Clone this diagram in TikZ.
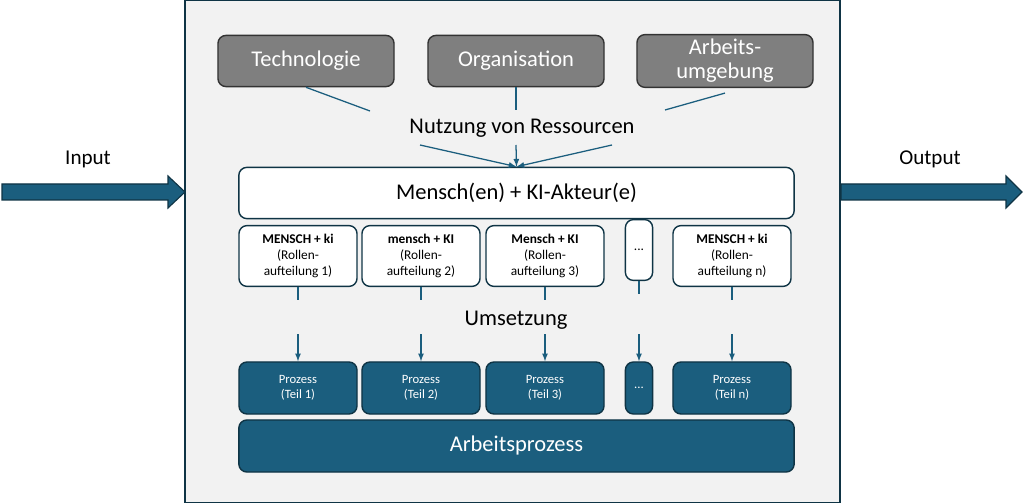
\documentclass[tikz,border=0pt]{standalone}
\usepackage{fontspec}
\setmainfont{Carlito}
\usetikzlibrary{positioning,calc}
\definecolor{teal}{HTML}{1B5E7E}
\definecolor{dteal}{HTML}{0F3445}
\definecolor{boxgray}{HTML}{7F7F7F}
\definecolor{bggray}{HTML}{F2F2F2}
\tikzset{
  res/.style={draw=black!80, fill=boxgray, rounded corners=2mm, line width=1pt,
    text=white, font=\fontsize{16}{17}\selectfont, minimum width=4.4cm,
    minimum height=1.28cm, align=center},
  role/.style={draw=dteal, fill=white, rounded corners=2mm, line width=1pt,
    font=\fontsize{9.5}{11.5}\selectfont, minimum width=2.95cm,
    minimum height=1.52cm, align=center},
  proc/.style={draw=dteal, fill=teal, rounded corners=2mm, line width=1pt,
    text=white, font=\fontsize{9}{11}\selectfont, minimum width=2.95cm,
    minimum height=1.3cm, align=center},
  lbl/.style={font=\fontsize{16}{18}\selectfont},
  link/.style={draw=teal, line width=0.9pt},
  arr/.style={link, -latex},
}
\begin{document}
\begin{tikzpicture}[x=0.025cm, y=-0.025cm]
\useasboundingbox (0,0) rectangle (1024,503);
\draw[fill=bggray, draw=dteal, line width=1pt] (185,0) rectangle (840,503);
% Ressourcen
\node[res] (tech) at (306,61) {Technologie};
\node[res] (org) at (516,61) {Organisation};
\node[res] (umg) at (725,61) {Arbeits-\\umgebung};
\node[lbl] (nutz) at (522,128) {Nutzung von Ressourcen};
\node[draw=dteal, fill=white, rounded corners=2mm, line width=1pt, lbl,
  minimum width=13.88cm, minimum height=1.28cm] (akt) at (516.5,193) {Mensch(en) + KI-Akteur(e)};
\path[link] (tech.south) -- (370,111);
\path[link] (org.south) -- (516,110);
\path[link] ($(umg.south)+(0,5)$) -- (665,110);
\coordinate (n1) at (420,145);
\coordinate (n2) at (516,145);
\coordinate (n3) at (612,145);
\foreach \n in {n1,n2,n3} \path[arr] (\n) -- (akt.north);
% Rollen
\node[role] (r1) at (298,256) {\textbf{MENSCH + ki}\\(Rollen-\\aufteilung 1)};
\node[role] (r2) at (421,256) {\textbf{mensch + KI}\\(Rollen-\\aufteilung 2)};
\node[role] (r3) at (545,256) {\textbf{Mensch + KI}\\(Rollen-\\aufteilung 3)};
\node[role, minimum width=0.68cm] (r4) at (639,250) {...};
\node[role] (r5) at (732,256) {\textbf{MENSCH + ki}\\(Rollen-\\aufteilung n)};
\node[lbl] (ums) at (516,320) {Umsetzung};
% Prozesse
\node[proc] (p1) at (298,388) {Prozess\\(Teil 1)};
\node[proc] (p2) at (421,388) {Prozess\\(Teil 2)};
\node[proc] (p3) at (545,388) {Prozess\\(Teil 3)};
\node[proc, minimum width=0.68cm] (p4) at (639,388) {...};
\node[proc] (p5) at (732,388) {Prozess\\(Teil n)};
\node[proc, lbl, text=white, minimum width=13.88cm] (ap) at (516.5,446) {Arbeitsprozess};
\foreach \i in {1,...,5} {
  \path[link] (r\i.south) -- ++(0,13);
  \path[arr] ($(p\i.north)+(0,-27)$) -- (p\i.north);
}
% Input / Output
\node[lbl, font=\fontsize{15}{17}\selectfont] (in) at (88,159) {Input};
\node[lbl, font=\fontsize{15}{17}\selectfont] (out) at (930,159) {Output};
\draw[fill=teal, draw=dteal, line width=0.8pt] (2,184) -- (168,184) -- (168,176) -- (185,192)
  -- (168,208) -- (168,200) -- (2,200) -- cycle;
\draw[fill=teal, draw=dteal, line width=0.8pt] (841,184) -- (1006,184) -- (1006,176) -- (1022,192)
  -- (1006,208) -- (1006,200) -- (841,200) -- cycle;
\end{tikzpicture}
\end{document}
